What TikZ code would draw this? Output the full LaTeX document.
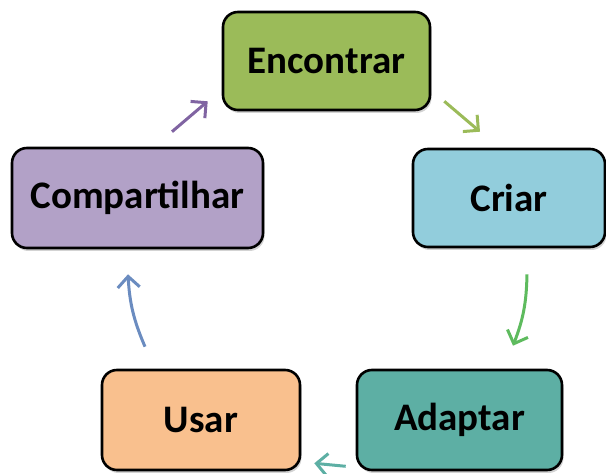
\documentclass[tikz,border=0pt]{standalone}
\usepackage{fontspec}
\setmainfont{Carlito}
\usetikzlibrary{arrows.meta,shadows}
\definecolor{gruen}{HTML}{9BBB59}
\definecolor{hellblau}{HTML}{92CDDC}
\definecolor{tuerkis}{HTML}{5DAFA4}
\definecolor{orange}{HTML}{F9C08E}
\definecolor{lila}{HTML}{B2A1C7}
\definecolor{pfgruen}{HTML}{5EBB5E}
\definecolor{pfblau}{HTML}{6B8CC0}
\definecolor{pflila}{HTML}{8064A2}
\begin{document}
\begin{tikzpicture}[x=1pt, y=1pt,
    >={Straight Barb[length=11pt,width=22pt]},
    kasten/.style={draw=black, line width=2.6pt, rounded corners=15pt,
        font=\fontsize{39}{44}\selectfont\bfseries,
        drop shadow={shadow xshift=1.5pt, shadow yshift=-3pt, opacity=0.35}},
    pfeil/.style={->, line width=3pt}]
    \useasboundingbox (0,0) rectangle (606,474);
    % Kaesten
    \node[kasten, fill=gruen, minimum width=207pt, minimum height=98pt] (enc) at (326.5,413) {Encontrar};
    \node[kasten, fill=hellblau, minimum width=192pt, minimum height=98pt] (cri) at (509,276) {Criar};
    \node[kasten, fill=tuerkis, minimum width=205pt, minimum height=100pt] (ada) at (459.5,54) {Adaptar};
    \node[kasten, fill=orange, minimum width=198pt, minimum height=100pt] (usa) at (201,54) {Usar};
    \node[kasten, fill=lila, minimum width=251pt, minimum height=100pt] (com) at (137.5,276) {Compartilhar};
    % Pfeile
    \draw[pfeil, color=gruen] ([xshift=13pt,yshift=10pt]enc.south east) -- ([xshift=-29pt,yshift=16pt]cri.north);
    \draw[pfeil, color=pfgruen] ([xshift=18pt,yshift=-26pt]cri.south) to[bend left=10] ([xshift=53.5pt,yshift=23pt]ada.north);
    \draw[pfeil, color=tuerkis] ([xshift=-10pt,yshift=5pt]ada.south west) -- ([xshift=13pt,yshift=8pt]usa.south east);
    \draw[pfeil, color=pfblau] ([xshift=-56pt,yshift=22pt]usa.north) to[bend left=10] ([xshift=-9.5pt,yshift=-25pt]com.south);
    \draw[pfeil, color=pflila] ([xshift=34.5pt,yshift=15pt]com.north) -- ([xshift=-14pt,yshift=10pt]enc.south west);
\end{tikzpicture}
\end{document}
